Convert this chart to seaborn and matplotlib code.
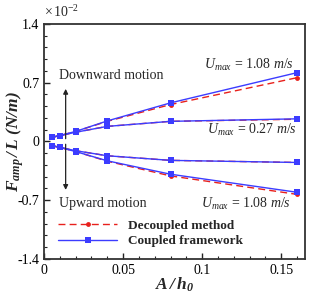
import numpy as np
import pandas as pd
import seaborn as sns
import matplotlib
matplotlib.use('Agg')
import matplotlib.pyplot as plt

# amplitude ratio A/h0
amp = [0.005, 0.01, 0.02, 0.04, 0.08, 0.16]

# F_amp/L values in units of 1e-2 N/m
# coupled framework
coup_up_108 = [0.05, 0.07, 0.12, 0.245, 0.46, 0.82]
coup_up_027 = [0.05, 0.07, 0.11, 0.18, 0.24, 0.27]
coup_dn_027 = [-0.05, -0.07, -0.11, -0.17, -0.225, -0.25]
coup_dn_108 = [-0.05, -0.07, -0.12, -0.23, -0.39, -0.605]
# decoupled method
dec_up_108 = [0.05, 0.07, 0.12, 0.24, 0.44, 0.76]
dec_up_027 = [0.05, 0.07, 0.11, 0.18, 0.24, 0.265]
dec_dn_027 = [-0.05, -0.07, -0.11, -0.17, -0.225, -0.25]
dec_dn_108 = [-0.05, -0.07, -0.12, -0.235, -0.41, -0.63]

sns.set_style('ticks')
plt.rcParams['font.family'] = ['Liberation Serif', 'DejaVu Serif']
plt.rcParams['mathtext.fontset'] = 'custom'
plt.rcParams['mathtext.rm'] = 'Liberation Serif'
plt.rcParams['mathtext.it'] = 'Liberation Serif:italic'
plt.rcParams['mathtext.bf'] = 'Liberation Serif:italic:bold'
plt.rcParams['axes.unicode_minus'] = False

fig = plt.figure(figsize=(3.32, 2.96), dpi=100)
ax = fig.add_axes([0.1325, 0.125, 0.786, 0.794])

red = '#e8201c'
blue = '#3c3cff'

dec = [dec_up_108, dec_up_027, dec_dn_027, dec_dn_108]
coup = [coup_up_108, coup_up_027, coup_dn_027, coup_dn_108]
for i, s in enumerate(dec):
    sns.lineplot(x=amp, y=s, ax=ax, color=red, linestyle=(0, (5, 3)), lw=1.0,
                 marker='o', markersize=3.5, markeredgewidth=0, zorder=2,
                 label='Decoupled method' if i == 0 else None)
for i, s in enumerate(coup):
    sns.lineplot(x=amp, y=s, ax=ax, color=blue, linestyle='-', lw=1.0,
                 marker='s', markersize=4, markeredgewidth=0, zorder=3,
                 label='Coupled framework' if i == 0 else None)

ax.set_xlim(0, 0.165)
ax.set_ylim(-1.4, 1.4)
ax.set_xticks([0, 0.05, 0.1, 0.15])
ax.set_xticklabels(['0', '0.05', '0.1', '0.15'])
ax.set_yticks([-1.4, -0.7, 0, 0.7, 1.4])
ax.set_yticklabels(['-1.4', '-0.7', '0', '0.7', '1.4'])
ax.set_xticks(np.arange(0, 0.165, 0.01), minor=True)
ax.set_yticks(np.arange(-1.4, 1.41, 0.14), minor=True)
ax.tick_params(which='both', direction='in', top=False, right=False,
               labelsize=10, colors='#222222', labelcolor='black')
ax.tick_params(which='major', length=4, width=1)
ax.tick_params(which='minor', length=2, width=0.8)
for sp in ax.spines.values():
    sp.set_linewidth(1.3)
    sp.set_color('#333333')

ax.set_xlabel(r'$\mathbf{A\,/\,h_0}$', fontsize=12.5)
ax.set_ylabel(r'$\mathbf{F_{amp}\,/\,L\ (N/m)}$', fontsize=12.5)
ax.xaxis.set_label_coords(0.5, -0.07)
ax.yaxis.set_label_coords(-0.068, 0.5)
ax.text(0.0, 1.015, r'$\times\,10^{-2}$', transform=ax.transAxes, fontsize=10,
        ha='left', va='bottom')

# motion arrows
ax.annotate('', xy=(0.0137, 0.66), xytext=(0.0137, 0.0),
            arrowprops=dict(arrowstyle='-|>', color='#222222', lw=0.9,
                            mutation_scale=7))
ax.annotate('', xy=(0.0137, -0.61), xytext=(0.0137, 0.0),
            arrowprops=dict(arrowstyle='-|>', color='#222222', lw=0.9,
                            mutation_scale=7))
ax.text(0.0093, 0.79, 'Downward motion', fontsize=10, ha='left', va='center')
ax.text(0.0093, -0.74, 'Upward motion', fontsize=10, ha='left', va='center')

ax.text(0.158, 0.91, r'$U_{max}$ = 1.08 $m/s$', fontsize=10, ha='right', va='center')
ax.text(0.160, 0.14, r'$U_{max}$ = 0.27 $m/s$', fontsize=10, ha='right', va='center')
ax.text(0.156, -0.74, r'$U_{max}$ = 1.08 $m/s$', fontsize=10, ha='right', va='center')

leg = ax.legend(loc='lower left', bbox_to_anchor=(0.054, 0.05), frameon=False,
                borderpad=0, borderaxespad=0, handlelength=4.5,
                handletextpad=0.8, labelspacing=0.25,
                prop={'family': 'Liberation Serif', 'weight': 'bold', 'size': 9.5})

fig.savefig('out.png', dpi=100)
